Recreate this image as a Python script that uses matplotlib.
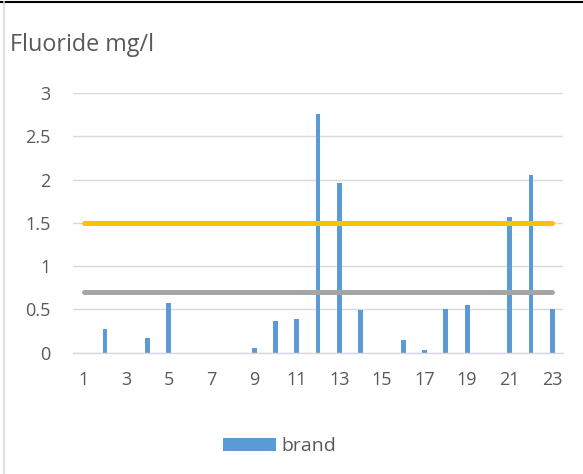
import matplotlib
matplotlib.use("Agg")
import matplotlib.pyplot as plt
from matplotlib.patches import Patch
from matplotlib.lines import Line2D

categories = list(range(1, 24))
brand = [0, 0.27, 0, 0.17, 0.57, 0, 0, 0, 0.05, 0.37, 0.39, 2.76, 1.96, 0.49,
         0, 0.15, 0.03, 0.50, 0.55, 0, 1.57, 2.05, 0.50]
upper_limit = 1.5
lower_limit = 0.7
xtick_labels = [str(c) for c in range(1, 24, 2)]
yticks = [0, 0.5, 1, 1.5, 2, 2.5, 3]
ytick_labels = ["0", "0.5", "1", "1.5", "2", "2.5", "3"]

plt.rcParams['font.family'] = ['Open Sans', 'DejaVu Sans']
txt = '#595959'

fig = plt.figure(figsize=(5.83, 4.74), dpi=100)
ax = fig.add_axes([73/583, 1-352.7/474, 490/583, (352.7-93)/474])

ax.bar(categories, brand, width=0.23, color='#5B9BD5', zorder=2, label='brand')
ax.plot(categories, [upper_limit]*len(categories), color='#FFC000', lw=3.6,
        solid_capstyle='round', zorder=3)
ax.plot(categories, [lower_limit]*len(categories), color='#A5A5A5', lw=3.6,
        solid_capstyle='round', zorder=3)

ax.set_xlim(0.5, 23.5)
ax.set_ylim(0, 3)
ax.set_yticks(yticks)
ax.set_yticklabels(ytick_labels)
ax.set_xticks(list(range(1, 24, 2)))
ax.set_xticklabels(xtick_labels)
ax.grid(axis='y', color='#D9D9D9', lw=1, zorder=0)
ax.set_axisbelow(True)
for s in ['top', 'right', 'left']:
    ax.spines[s].set_visible(False)
ax.spines['bottom'].set_color('#D9D9D9')
ax.spines['bottom'].set_linewidth(1)
ax.tick_params(axis='both', length=0, labelsize=13, colors=txt)
ax.tick_params(axis='x', pad=13)
ax.tick_params(axis='y', pad=16)

fig.text(10/583, 1-45/474, 'Fluoride mg/l', fontsize=16.8, color=txt,
         ha='left', va='center')

handles = [Patch(facecolor='#5B9BD5', edgecolor='none')]
leg = fig.legend(handles, ['brand'], loc='center', bbox_to_anchor=(280/583, 1-446/474),
                 frameon=False, fontsize=14, handlelength=2.7, handleheight=0.65,
                 handletextpad=0.3, labelcolor=txt)

# chart border (top dark line, left light line)
fig.add_artist(Line2D([0, 1], [1-1.5/474, 1-1.5/474], color='black', lw=1.5,
                      transform=fig.transFigure))
fig.add_artist(Line2D([3.5/583, 3.5/583], [0, 1-2/474], color='#D9D9D9', lw=1.2,
                      transform=fig.transFigure))

fig.savefig('out.png', dpi=100)
